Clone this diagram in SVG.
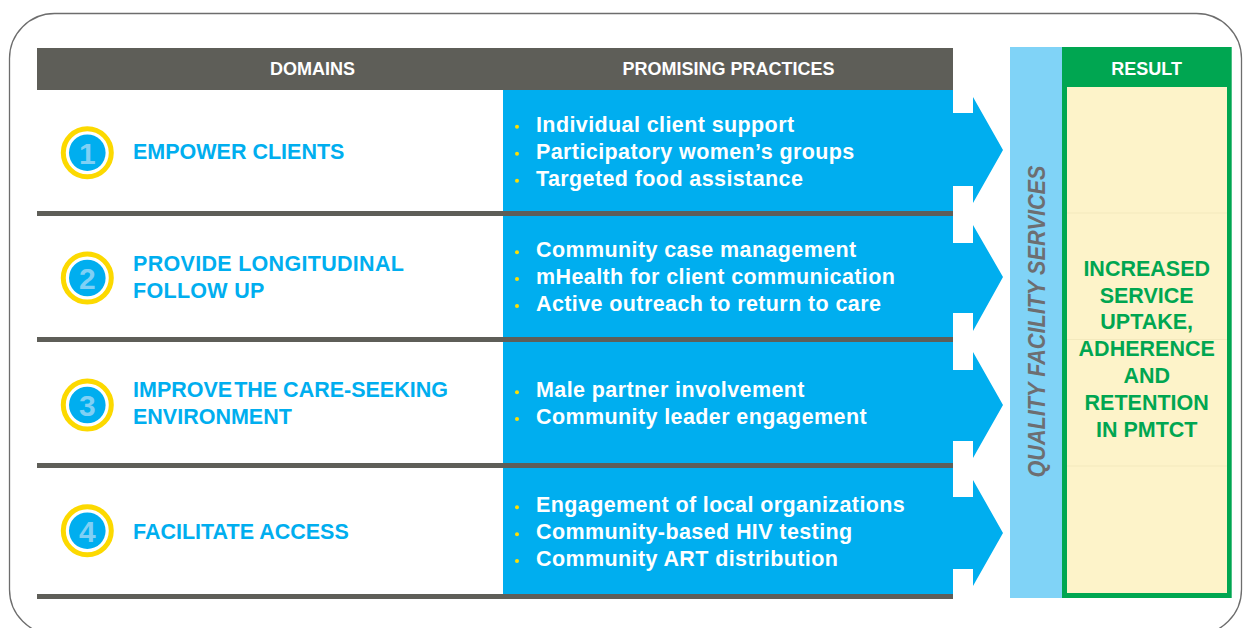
<svg xmlns="http://www.w3.org/2000/svg" width="1243" height="628" viewBox="0 0 1243 628">
<style>
.hdr{font-family:"Liberation Sans",Arial,sans-serif;font-weight:bold;font-size:18px;fill:#ffffff;text-anchor:middle}
.dom{font-family:"Liberation Sans",Arial,sans-serif;font-weight:bold;font-size:21.5px;fill:#00aeef}
.prac{font-family:"Liberation Sans",Arial,sans-serif;font-weight:bold;font-size:21.5px;fill:#ffffff;letter-spacing:0.4px}
.num{font-family:"Liberation Sans",Arial,sans-serif;font-weight:bold;font-size:30px;fill:#7fd0f5;text-anchor:middle}
.res{font-family:"Liberation Sans",Arial,sans-serif;font-weight:bold;font-size:21.5px;fill:#00a651;text-anchor:middle}
.qual{font-family:"Liberation Sans",Arial,sans-serif;font-weight:bold;font-style:italic;font-size:23px;fill:#6d6e71;text-anchor:middle}
.sep{fill:#5e5e58}
.panel{fill:#00aeef}
.bul{fill:#ffdd00}
.ring{fill:none;stroke:#fcd900;stroke-width:5}
.disc{fill:#00aeef}
</style>
<defs>
<g id="bullet"><circle r="2" class="bul"/></g>
</defs>
<rect x="9.5" y="13.5" width="1232" height="621" rx="45" ry="45" fill="#ffffff" stroke="#6d6d6d" stroke-width="1.3"/>

<g id="header">
<rect x="37" y="48" width="916" height="42" fill="#5e5e58"/>
<text class="hdr" x="312.5" y="75">DOMAINS</text>
<text class="hdr" x="728.5" y="75">PROMISING PRACTICES</text>
</g>

<g id="panels">
<rect class="panel" x="503" y="90" width="450" height="121"/>
<rect class="panel" x="503" y="216" width="450" height="121"/>
<rect class="panel" x="503" y="342" width="450" height="121"/>
<rect class="panel" x="503" y="468" width="450" height="126"/>
<rect class="sep" x="37" y="211" width="916" height="5"/>
<rect class="sep" x="37" y="337" width="916" height="5"/>
<rect class="sep" x="37" y="463" width="916" height="5"/>
<rect class="sep" x="37" y="594" width="916" height="5"/>
</g>

<g id="connectors">
<polygon class="panel" points="953,113 973,113 973,97 1003,150 973,203 973,186 953,186"/>
<polygon class="panel" points="953,243 973,243 973,225 1003,277 973,331 973,313 953,313"/>
<polygon class="panel" points="953,370 973,370 973,352 1003,405 973,458 973,441 953,441"/>
<polygon class="panel" points="953,497 973,497 973,480 1003,533 973,586 973,569 953,569"/>
</g>

<g id="domain1">
<circle class="ring" cx="87.3" cy="152.7" r="24"/>
<circle class="disc" cx="87.3" cy="152.7" r="18.3"/>
<text class="num" x="87.3" y="164">1</text>
<text class="dom" x="133" y="159">EMPOWER CLIENTS</text>
</g>
<g id="domain2">
<circle class="ring" cx="87.3" cy="278" r="24"/>
<circle class="disc" cx="87.3" cy="278" r="18.3"/>
<text class="num" x="87.3" y="289.3">2</text>
<text class="dom" x="133" y="270.5" letter-spacing="0.3">PROVIDE LONGITUDINAL</text>
<text class="dom" x="133" y="297.5" letter-spacing="0.3">FOLLOW UP</text>
</g>
<g id="domain3">
<circle class="ring" cx="87.3" cy="405" r="24"/>
<circle class="disc" cx="87.3" cy="405" r="18.3"/>
<text class="num" x="87.3" y="416.3">3</text>
<text class="dom" x="133" y="396.5">IMPROVE<tspan dx="-4"> THE CARE-SEEKING</tspan></text>
<text class="dom" x="133" y="423.5">ENVIRONMENT</text>
</g>
<g id="domain4">
<circle class="ring" cx="87.3" cy="530.7" r="24"/>
<circle class="disc" cx="87.3" cy="530.7" r="18.3"/>
<text class="num" x="87.3" y="542">4</text>
<text class="dom" x="133" y="539">FACILITATE ACCESS</text>
</g>

<g id="practices1">
<use href="#bullet" x="517" y="126.7"/><use href="#bullet" x="517" y="153.7"/><use href="#bullet" x="517" y="180.7"/>
<text class="prac" x="536" y="131.7">Individual client support</text>
<text class="prac" x="536" y="158.7">Participatory women’s groups</text>
<text class="prac" x="536" y="185.7">Targeted food assistance</text>
</g>
<g id="practices2">
<use href="#bullet" x="517" y="252.3"/><use href="#bullet" x="517" y="279"/><use href="#bullet" x="517" y="306"/>
<text class="prac" x="536" y="257.3">Community case management</text>
<text class="prac" x="536" y="284">mHealth for client communication</text>
<text class="prac" x="536" y="311">Active outreach to return to care</text>
</g>
<g id="practices3">
<use href="#bullet" x="517" y="392.3"/><use href="#bullet" x="517" y="419"/>
<text class="prac" x="536" y="397.3">Male partner involvement</text>
<text class="prac" x="536" y="424">Community leader engagement</text>
</g>
<g id="practices4">
<use href="#bullet" x="517" y="507.3"/><use href="#bullet" x="517" y="534.3"/><use href="#bullet" x="517" y="561"/>
<text class="prac" x="536" y="512.3">Engagement of local organizations</text>
<text class="prac" x="536" y="539.3">Community-based HIV testing</text>
<text class="prac" x="536" y="566">Community ART distribution</text>
</g>

<g id="quality">
<rect x="1010" y="47" width="52" height="551" fill="#80d3f7"/>
<text class="qual" transform="translate(1045,321.5) rotate(-90)" x="0" y="0" textLength="312" lengthAdjust="spacingAndGlyphs">QUALITY FACILITY SERVICES</text>
</g>

<g id="result">
<rect x="1062" y="47" width="169.7" height="551" fill="#00a651"/>
<rect x="1067" y="87" width="160" height="506" fill="#fdf3c9"/>
<line x1="1067" y1="213" x2="1227" y2="213" stroke="#f3e9bd" stroke-width="1"/>
<line x1="1067" y1="339.5" x2="1227" y2="339.5" stroke="#f3e9bd" stroke-width="1"/>
<line x1="1067" y1="466" x2="1227" y2="466" stroke="#f3e9bd" stroke-width="1"/>
<text class="hdr" x="1146.7" y="75" font-size="17.5">RESULT</text>
<text class="res" x="1146.7" y="276">INCREASED</text>
<text class="res" x="1146.7" y="302.7">SERVICE</text>
<text class="res" x="1146.7" y="329.3">UPTAKE,</text>
<text class="res" x="1146.7" y="356">ADHERENCE</text>
<text class="res" x="1146.7" y="383">AND</text>
<text class="res" x="1146.7" y="410">RETENTION</text>
<text class="res" x="1146.7" y="436.7">IN PMTCT</text>
</g>
</svg>
